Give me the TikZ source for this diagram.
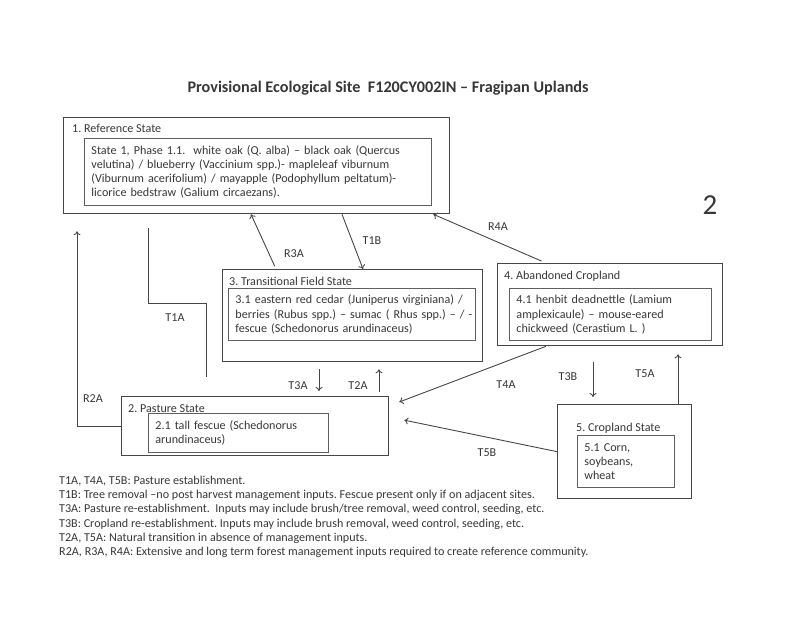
\documentclass[tikz,border=0pt]{standalone}
\usepackage{fontspec}
\setmainfont{Carlito}
\usepackage{tikz}
\usetikzlibrary{arrows.meta}
\usetikzlibrary{positioning}
\definecolor{ink}{RGB}{55,55,55}
\definecolor{frame}{RGB}{70,70,70}
\definecolor{subframe}{RGB}{95,95,95}
\frenchspacing

\begin{document}
\begin{tikzpicture}[x=1pt,y=-1pt,>={To[length=4pt,width=7pt]},
        every node/.style={text=ink},
        font=\fontsize{12.1}{14.3}\selectfont]
        \tikzset{statebox/.style={draw=frame, line width=1.3pt, anchor=north west, inner sep=0pt},
        phasebox/.style={draw=subframe, line width=0.9pt, align=left, inner xsep=7pt, inner ysep=2pt},
        head/.style={inner sep=0pt, text height=8.5pt, text depth=2.5pt},
        lbl/.style={inner sep=0pt},
        link/.style={draw=frame, line width=0.9pt, ->},
        }
        \useasboundingbox (0,0) rectangle (800,617);

        \node (title) at (388,88) {\fontsize{16.2}{18}\selectfont\bfseries Provisional Ecological Site\ \ F120CY002IN -- Fragipan Uplands};
        \node (pagenum) at (710,205) {\fontsize{29}{30}\selectfont 2};

%% states
        \node [statebox, minimum width=386pt, minimum height=96pt] (ref) at (63,117) {};
        \node [statebox, minimum width=260pt, minimum height=92pt] (trans) at (222,269) {};
        \node [statebox, minimum width=225pt, minimum height=82pt] (aband) at (497,263) {};
        \node [statebox, minimum width=267pt, minimum height=59pt] (past) at (121,396) {};
        \node [statebox, minimum width=134pt, minimum height=94pt] (crop) at (557,404) {};

        \node [head, below right =6.5pt and 9pt of ref.north west] (refname) {1. Reference State};
        \node [head, below right =8pt and 7pt of trans.north west] (transname) {3. Transitional Field State};
        \node [head, below right =8pt and 7pt of aband.north west] (abandname) {4. Abandoned Cropland};
        \node [head, below right =8pt and 7pt of past.north west] (pastname) {2. Pasture State};
        \node [head, below right =19pt and 19pt of crop.north west] (cropname) {5. Cropland State};

%% phases
        \node [phasebox, text width=333pt, minimum height=67pt, below right =21pt and 21pt of ref.north west] (ref1)
            {State 1, Phase 1.1.\ \ white oak (Q. alba) -- black oak (Quercus\\
             velutina) / blueberry (Vaccinium spp.)- mapleleaf viburnum\\
             (Viburnum acerifolium) / mayapple (Podophyllum peltatum)-\\
             licorice bedstraw (Galium circaezans).};
        \node [phasebox, text width=233pt, minimum height=52pt, below right =19pt and 6pt of trans.north west] (trans1)
            {3.1 eastern red cedar (Juniperus virginiana) /\\
             \mbox{berries (Rubus spp.) -- sumac ( Rhus spp.) -- / -}\\
             fescue (Schedonorus arundinaceus)};
        \node [phasebox, text width=188pt, minimum height=52pt, below right =25pt and 12pt of aband.north west] (aband1)
            {4.1 henbit deadnettle (Lamium\\
             amplexicaule) -- mouse-eared\\
             chickweed (Cerastium L. )};
        \node [phasebox, text width=166pt, minimum height=39pt, below right =17pt and 27pt of past.north west] (past1)
            {2.1 tall fescue (Schedonorus\\
             arundinaceus)};
        \node [phasebox, text width=83pt, minimum height=52pt, below right =31pt and 20pt of crop.north west] (crop1)
            {5.1 Corn,\\
             soybeans,\\
             wheat};

        \node [coordinate, below right =14pt and 85pt of ref.south west] (t1a) {};
        \node [coordinate, above right =19pt and 85pt of past.north west] (t1aend) {};
        \node [coordinate, below right =17pt and 14pt of ref.south west] (r2a) {};

%% paths
        \path[link] (t1a) -- ++(0,75) -| (t1aend)
                    (past.west) -| (r2a)
                    ;
        \draw[link, shorten <=3pt] ([xshift=54pt]trans.north west) -- ([xshift=188pt]ref.south west);
        \draw[link] ([xshift=279pt]ref.south west) -- ([xshift=141pt]trans.north west);
        \draw[link, shorten <=5pt] ([xshift=49pt]aband.north west) -- ([xshift=-17pt]ref.south east);
        \draw[link, shorten <=7pt, shorten >=5pt] ([xshift=97pt]trans.south west) -- ([xshift=198pt]past.north west);
        \draw[link, shorten <=4pt, shorten >=7pt] ([xshift=258pt]past.north west) -- ([xshift=157pt]trans.south west);
        \draw[link] ([xshift=49pt]aband.south west) -- ([xshift=10pt,yshift=-6pt]past.north east);
        \draw[link, shorten <=16pt, shorten >=7pt] ([xshift=96pt]aband.south west) -- ([xshift=36pt]crop.north west);
        \draw[link, shorten >=8pt] ([xshift=121pt]crop.north west) -- ([xshift=181pt]aband.south west);
        \draw[link] (crop.west) -- ([xshift=15pt,yshift=6pt]past.east);

%% labels
        \node [lbl] (t1alabel) at (175,318) {T1A};
        \node [lbl] (r2alabel) at (93,399) {R2A};
        \node [lbl] (r3alabel) at (294,254) {R3A};
        \node [lbl] (t1blabel) at (372,241) {T1B};
        \node [lbl] (r4alabel) at (498,227) {R4A};
        \node [lbl] (t3alabel) at (298,386) {T3A};
        \node [lbl] (t2alabel) at (358,386) {T2A};
        \node [lbl] (t4alabel) at (506,385) {T4A};
        \node [lbl] (t3blabel) at (568,377) {T3B};
        \node [lbl] (t5alabel) at (645,374) {T5A};
        \node [lbl] (t5blabel) at (487,453) {T5B};

        \node [inner sep=0pt, anchor=north west, align=left] (notes) at (59,475.5)
            {T1A, T4A, T5B: Pasture establishment.\\
             T1B: Tree removal --no post harvest management inputs. Fescue present only if on adjacent sites.\\
             T3A: Pasture re-establishment.\ \ Inputs may include brush/tree removal, weed control, seeding, etc.\\
             T3B: Cropland re-establishment. Inputs may include brush removal, weed control, seeding, etc.\\
             T2A, T5A: Natural transition in absence of management inputs.\\
             R2A, R3A, R4A: Extensive and long term forest management inputs required to create reference community.};
    \end{tikzpicture}
\end{document}
